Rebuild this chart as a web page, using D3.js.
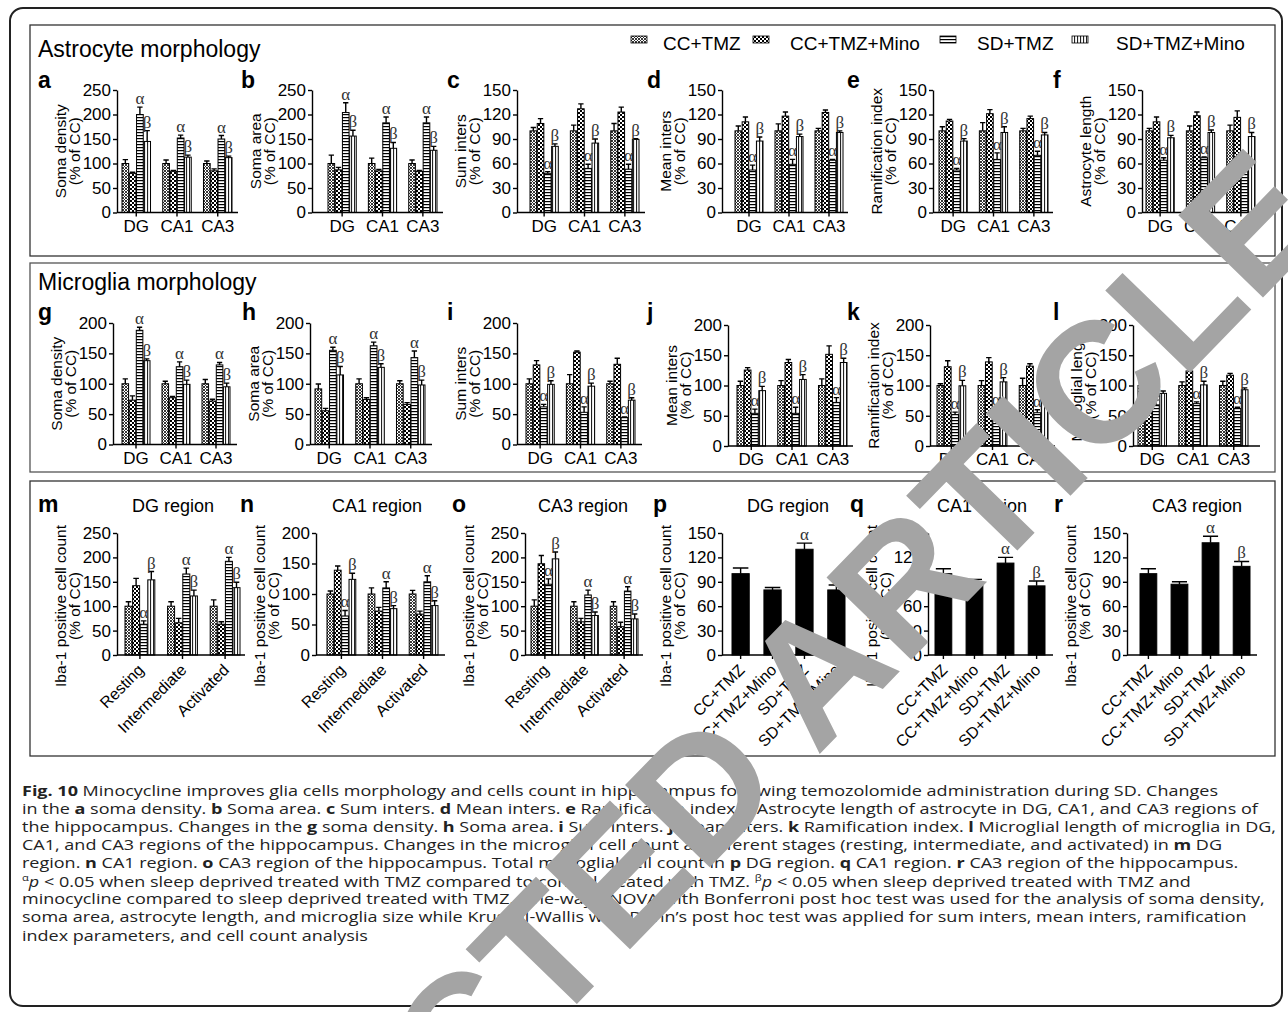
<!DOCTYPE html>
<html>
<head>
<meta charset="utf-8">
<script src="https://cdn.jsdelivr.net/npm/d3@7"></script>
<style>
body { margin: 0; background: #fff; }
svg text { font-family: "Liberation Sans", Arial, sans-serif; }
</style>
</head>
<body>
<svg id="fig" width="1288" height="1012"></svg>
<script>
// categories
const regions = ["DG", "CA1", "CA3"]
const stages = ["Resting", "Intermediate", "Activated"]
const treatments = ["CC+TMZ", "CC+TMZ+Mino", "SD+TMZ", "SD+TMZ+Mino"]

// tick values
const ticks250 = [0, 50, 100, 150, 200, 250]
const ticks200 = [0, 50, 100, 150, 200]
const ticks150 = [0, 30, 60, 90, 120, 150]

// astrocyte morphology (% of CC), rows = DG, CA1, CA3
const astroSomaDensity = [[100, 80, 200, 145], [100, 84, 152, 113], [100, 85, 150, 112]]
const astroSomaDensityErr = [[8, 2, 15, 22], [7, 2, 6, 4], [5, 4, 7, 3]]
const astroSomaArea = [[100, 87, 204, 156], [100, 85, 183, 131], [100, 84, 183, 127]]
const astroSomaAreaErr = [[17, 5, 20, 12], [11, 3, 12, 12], [7, 2, 12, 8]]
const astroSumInters = [[100, 109, 48, 81], [100, 127, 54, 85], [100, 123, 53, 89.5]]
const astroSumIntersErr = [[4, 6, 2, 3], [7, 6, 5, 5], [9, 6, 6, 1]]
const astroMeanInters = [[100, 111, 52, 87.5], [100, 118, 59, 93], [100, 122.5, 64, 98]]
const astroMeanIntersErr = [[6, 6, 6, 5], [8.5, 5, 6, 3], [3, 3, 1, 2]]
const astroRamification = [[100, 112, 52, 87.5], [100, 121, 65, 98], [100, 115, 70, 95]]
const astroRamificationErr = [[5, 2, 2, 3], [10, 5, 8, 7], [3, 3, 5, 3]]
const astroLength = [[100, 111, 64, 91.5], [100, 118.5, 67, 98], [100, 116.5, 57, 93]]
const astroLengthErr = [[3, 6, 3, 3], [6, 4.5, 1, 3], [7, 8, 3, 5]]

// microglia morphology (% of CC)
const microSomaDensity = [[100, 73, 188, 138], [100, 77, 128, 99], [100, 71.5, 131, 95]]
const microSomaDensityErr = [[8, 7, 5, 3], [4, 2, 8, 7], [7, 3, 4, 6]]
const microSomaArea = [[91.5, 55.5, 155, 114.5], [100, 74, 162.5, 127], [100, 66, 143, 98]]
const microSomaAreaErr = [[8, 4, 5, 14], [8, 3, 6, 6], [5, 3, 11, 8]]
const microSumInters = [[100, 131, 62, 99], [100, 152, 53, 96], [100, 132, 44.5, 73]]
const microSumIntersErr = [[8, 7, 4, 6], [15, 2, 9, 5], [4, 10, 1, 4]]
const microMeanInters = [[100, 125.5, 54, 91.5], [100, 138, 54, 110], [100, 151.5, 72, 138]]
const microMeanIntersErr = [[7, 4, 7, 7], [8, 5, 10, 8], [11, 14, 8, 7]]
const microRamification = [[100, 131, 52, 99.5], [100, 139, 57, 106], [100, 132, 55, 106]]
const microRamificationErr = [[3, 10, 4, 9], [8, 7, 5, 7], [12, 4, 5, 6]]
const microLength = [[100, 124, 68, 87], [100, 124, 70, 101], [100, 117, 62, 93]]
const microLengthErr = [[5, 3, 8, 4], [6, 7, 3, 6], [7, 3, 2, 3]]

// Iba-1 cell count by stage, rows = Resting, Intermediate, Activated
const stageDG = [[100, 142, 63, 154], [100, 66, 166, 121], [100, 63, 192, 138]]
const stageDGErr = [[9, 15, 7, 17], [9, 9, 12, 12], [13, 5, 8, 11]]
const stageCA1 = [[100, 139, 64, 124], [100, 72, 110, 76], [100, 67, 120, 81]]
const stageCA1Err = [[5, 7, 9, 10], [10, 6, 10, 5], [6, 5, 10, 8]]
const stageCA3 = [[100, 187, 145, 197], [100, 68, 123, 81], [100, 58, 131, 74]]
const stageCA3Err = [[13, 17, 11, 14], [9, 7, 10, 7], [9, 9, 9, 10]]

// total Iba-1 cell count
const totalDG = [100, 80, 130, 80]
const totalDGErr = [7, 3, 7.5, 6]
const totalCA1 = [100, 87, 113, 85]
const totalCA1Err = [6, 6, 7, 6]
const totalCA3 = [100, 87, 138, 109]
const totalCA3Err = [6, 3, 8, 6]

// significance marks
const sigGroup = ["", "", "α", "β"]
const sigAll = [sigGroup, sigGroup, sigGroup]
const sigMicroLength = [["", "", "α", ""], sigGroup, sigGroup]

const svg = d3.select('#fig')
const defs = svg.append('defs')

// fill patterns
const pattern = (id, w, h) => defs.append('pattern').attr('id', id)
    .attr('patternUnits', 'userSpaceOnUse').attr('width', w).attr('height', h)
const p0 = pattern('pat0', 3, 3)
p0.append('rect').attr('width', 3).attr('height', 3).attr('fill', '#fff')
p0.append('path').attr('d', 'M0,0L3,3M3,0L0,3').attr('stroke', '#222').attr('stroke-width', 0.9)
const p1 = pattern('pat1', 4, 4)
p1.append('rect').attr('width', 4).attr('height', 4).attr('fill', '#000')
p1.append('rect').attr('width', 2).attr('height', 2).attr('fill', '#fff')
p1.append('rect').attr('x', 2).attr('y', 2).attr('width', 2).attr('height', 2).attr('fill', '#fff')
const p2 = pattern('pat2', 4, 3)
p2.append('rect').attr('width', 4).attr('height', 3).attr('fill', '#fff')
p2.append('rect').attr('width', 4).attr('height', 1.2).attr('fill', '#000')
const p3 = pattern('pat3', 3, 4)
p3.append('rect').attr('width', 3).attr('height', 4).attr('fill', '#fff')
p3.append('rect').attr('width', 1.1).attr('height', 4).attr('fill', '#222')
const fills = ['url(#pat0)', 'url(#pat1)', 'url(#pat2)', 'url(#pat3)']

// frames
svg.append('rect').attr('x', 10).attr('y', 8).attr('width', 1272).attr('height', 998)
    .attr('rx', 13).attr('fill', 'none').attr('stroke', '#222').attr('stroke-width', 2)
const boxes = [[30, 25, 1245, 231, '#333'], [30, 263, 1245, 209, '#555'], [30, 481, 1245, 275, '#333']]
boxes.forEach(b => {
    svg.append('rect').attr('x', b[0]).attr('y', b[1]).attr('width', b[2]).attr('height', b[3])
        .attr('fill', 'none').attr('stroke', b[4]).attr('stroke-width', 1.3)
})
svg.append('text').attr('x', 38).attr('y', 57).attr('font-size', 23).text('Astrocyte morphology')
svg.append('text').attr('x', 38).attr('y', 290).attr('font-size', 23).text('Microglia morphology')

// legend
const legendSw = [631, 753, 940, 1072]
const legendTx = [663, 790, 977, 1116]
treatments.forEach((t, i) => {
    svg.append('rect').attr('x', legendSw[i]).attr('y', 36).attr('width', 16).attr('height', 7)
        .attr('fill', fills[i]).attr('stroke', '#000').attr('stroke-width', 0.8)
    svg.append('text').attr('x', legendTx[i]).attr('y', 50).attr('font-size', 19).text(t)
})

const styleAxis = (g) => {
    g.attr('font-size', null).attr('font-family', null)
    g.selectAll('text').attr('font-size', 17).attr('fill', '#000')
    g.selectAll('path,line').attr('stroke', '#000').attr('stroke-width', 1.4)
}

const drawPanel = (s) => {
    const g = svg.append('g')
    const y = d3.scaleLinear().domain([0, s.max]).range([s.yBot, s.yTop])
    const single = !s.cats
    const x0 = d3.scaleBand().domain(single ? treatments : s.cats).range(s.band)
        .paddingInner(single ? 0.46 : 0.3)
    const x1 = d3.scaleBand().domain(treatments).range([0, x0.bandwidth()]).paddingInner(0.08)

    const recs = single
        ? treatments.map((t, i) => ({ x: x0(t), w: x0.bandwidth(), v: s.vals[i], e: s.errs[i], sig: sigGroup[i], fill: '#000' }))
        : s.cats.flatMap((c, gi) => treatments.map((t, ti) => ({
            x: x0(c) + x1(t), w: x1.bandwidth(), v: s.vals[gi][ti], e: s.errs[gi][ti],
            sig: s.sigs[gi][ti], fill: fills[ti]
        })))

    g.selectAll('.bar').data(recs).join('rect').attr('class', 'bar')
        .attr('x', d => d.x).attr('width', d => d.w)
        .attr('y', d => y(d.v)).attr('height', d => y(0) - y(d.v))
        .attr('fill', d => d.fill).attr('stroke', '#000').attr('stroke-width', 1)

    g.selectAll('.err').data(recs).join('path').attr('class', 'err')
        .attr('d', d => {
            const cx = d.x + d.w / 2, cw = d.w * (single ? 0.9 : 0.8)
            return `M${cx},${y(d.v)}V${y(d.v + d.e)}M${cx - cw / 2},${y(d.v + d.e)}H${cx + cw / 2}`
        })
        .attr('stroke', '#000').attr('stroke-width', 1.4).attr('fill', 'none')

    g.selectAll('.sig').data(recs.filter(d => d.sig)).join('text').attr('class', 'sig')
        .attr('x', d => d.x + d.w / 2).attr('y', d => y(d.v + d.e) - 3)
        .attr('text-anchor', 'middle').attr('font-size', 17).attr('fill', '#333')
        .style('font-family', '"Liberation Serif", "Times New Roman", serif')
        .text(d => d.sig)

    // axes
    const ya = g.append('g').attr('transform', `translate(${s.axisX},0)`)
        .call(d3.axisLeft(y).tickValues(s.ticks).tickSize(4).tickSizeOuter(0).tickPadding(2))
    styleAxis(ya)
    const xa = g.append('g').attr('transform', `translate(0,${s.yBot})`)
        .call(d3.axisBottom(x0).tickSize(4).tickSizeOuter(0).tickPadding(3))
    xa.select('.domain').attr('d', `M${s.axisX},0H${s.axisEnd}`)
    styleAxis(xa)
    if (s.rotate) {
        xa.selectAll('.tick text').attr('x', 0).attr('y', 0).attr('dy', 0).attr('font-size', 16)
            .attr('text-anchor', 'end').attr('transform', 'translate(5,16) rotate(-45)')
    }

    // y label
    const cy = (s.yTop + s.yBot) / 2 + (s.labShift || 0)
    s.ylabel.forEach((line, i) => {
        g.append('text').attr('transform', `translate(${s.axisX - s.labOff[i]},${cy}) rotate(-90)`)
            .attr('text-anchor', 'middle').attr('font-size', 15.5).text(line)
    })
    // panel letter and title
    g.append('text').attr('x', s.lx).attr('y', s.ly).attr('font-size', 23).attr('font-weight', 'bold').text(s.letter)
    if (s.title) {
        g.append('text').attr('x', s.tx).attr('y', s.ly).attr('text-anchor', 'middle').attr('font-size', 18).text(s.title)
    }
}

const pct = '(% of CC)'
const iba = ['Iba-1 positive cell count', pct]
const lo = [51, 37]
const row1 = { yTop: 90, yBot: 212.5, ly: 88, cats: regions, sigs: sigAll, labOff: lo }
const row2 = { yTop: 323, yBot: 444.5, ly: 320, cats: regions, labOff: lo }
const row3 = { yTop: 533, yBot: 655, ly: 512, rotate: true, labOff: lo, labShift: 12, sigs: sigAll }

const panels = [
    { ...row1, letter: 'a', lx: 38, axisX: 117, band: [122, 232], axisEnd: 238, max: 250, ticks: ticks250, ylabel: ['Soma density', pct], vals: astroSomaDensity, errs: astroSomaDensityErr },
    { ...row1, letter: 'b', lx: 241, axisX: 312, band: [328, 437], axisEnd: 443, max: 250, ticks: ticks250, ylabel: ['Soma area', pct], vals: astroSomaArea, errs: astroSomaAreaErr },
    { ...row1, letter: 'c', lx: 447, axisX: 517, band: [530, 639], axisEnd: 645, max: 150, ticks: ticks150, ylabel: ['Sum inters', pct], vals: astroSumInters, errs: astroSumIntersErr },
    { ...row1, letter: 'd', lx: 647, axisX: 722, band: [735, 843], axisEnd: 848, max: 150, ticks: ticks150, ylabel: ['Mean inters', pct], vals: astroMeanInters, errs: astroMeanIntersErr },
    { ...row1, letter: 'e', lx: 847, axisX: 933, band: [939, 1048], axisEnd: 1053, max: 150, ticks: ticks150, ylabel: ['Ramification index', pct], vals: astroRamification, errs: astroRamificationErr },
    { ...row1, letter: 'f', lx: 1053, axisX: 1142, band: [1146, 1255], axisEnd: 1262, max: 150, ticks: ticks150, ylabel: ['Astrocyte length', pct], vals: astroLength, errs: astroLengthErr },

    { ...row2, letter: 'g', lx: 38, axisX: 113, band: [122, 230], axisEnd: 237, max: 200, ticks: ticks200, ylabel: ['Soma density', pct], vals: microSomaDensity, errs: microSomaDensityErr, sigs: sigAll },
    { ...row2, letter: 'h', lx: 242, axisX: 310, band: [315, 425], axisEnd: 432, max: 200, ticks: ticks200, ylabel: ['Soma area', pct], vals: microSomaArea, errs: microSomaAreaErr, sigs: sigAll },
    { ...row2, letter: 'i', lx: 447, axisX: 517, band: [526, 635], axisEnd: 642, max: 200, ticks: ticks200, ylabel: ['Sum inters', pct], vals: microSumInters, errs: microSumIntersErr, sigs: sigAll },
    { ...row2, letter: 'j', lx: 647, axisX: 728, band: [737, 847], axisEnd: 853, yTop: 325, yBot: 446, max: 200, ticks: ticks200, ylabel: ['Mean inters', pct], vals: microMeanInters, errs: microMeanIntersErr, sigs: sigAll },
    { ...row2, letter: 'k', lx: 847, axisX: 930, band: [937, 1048], axisEnd: 1055, yTop: 325, yBot: 446, max: 200, ticks: ticks200, ylabel: ['Ramification index', pct], vals: microRamification, errs: microRamificationErr, sigs: sigAll },
    { ...row2, letter: 'l', lx: 1053, axisX: 1133, band: [1138, 1248], axisEnd: 1260, yTop: 325, yBot: 446, max: 200, ticks: ticks200, ylabel: ['Microglial length', pct], vals: microLength, errs: microLengthErr, sigs: sigMicroLength },

    { ...row3, letter: 'm', lx: 38, title: 'DG region', tx: 173, cats: stages, axisX: 117, band: [125, 240], axisEnd: 245, max: 250, ticks: ticks250, ylabel: iba, vals: stageDG, errs: stageDGErr },
    { ...row3, letter: 'n', lx: 240, title: 'CA1 region', tx: 377, cats: stages, axisX: 316, band: [327, 438], axisEnd: 445, max: 200, ticks: ticks200, ylabel: iba, vals: stageCA1, errs: stageCA1Err },
    { ...row3, letter: 'o', lx: 452, title: 'CA3 region', tx: 583, cats: stages, axisX: 525, band: [531, 638], axisEnd: 643, max: 250, ticks: ticks250, ylabel: iba, vals: stageCA3, errs: stageCA3Err },
    { ...row3, letter: 'p', lx: 653, title: 'DG region', tx: 788, axisX: 722, band: [732, 845], axisEnd: 850, max: 150, ticks: ticks150, ylabel: iba, vals: totalDG, errs: totalDGErr },
    { ...row3, letter: 'q', lx: 850, title: 'CA1 region', tx: 982, axisX: 928, band: [935, 1045], axisEnd: 1053, max: 150, ticks: ticks150, ylabel: iba, vals: totalCA1, errs: totalCA1Err },
    { ...row3, letter: 'r', lx: 1054, title: 'CA3 region', tx: 1197, axisX: 1127, band: [1140, 1250], axisEnd: 1257, max: 150, ticks: ticks150, ylabel: iba, vals: totalCA3, errs: totalCA3Err },
]
panels.forEach(drawPanel)

// caption
const caption = [
    [['Fig. 10', 'b'], [' Minocycline improves glia cells morphology and cells count in hippocampus following temozolomide administration during SD. Changes']],
    [['in the '], ['a', 'b'], [' soma density. '], ['b', 'b'], [' Soma area. '], ['c', 'b'], [' Sum inters. '], ['d', 'b'], [' Mean inters. '], ['e', 'b'], [' Ramification index. '], ['f', 'b'], [' Astrocyte length of astrocyte in DG, CA1, and CA3 regions of']],
    [['the hippocampus. Changes in the '], ['g', 'b'], [' soma density. '], ['h', 'b'], [' Soma area. '], ['i', 'b'], [' Sum inters. '], ['j', 'b'], [' Mean inters. '], ['k', 'b'], [' Ramification index. '], ['l', 'b'], [' Microglial length of microglia in DG,']],
    [['CA1, and CA3 regions of the hippocampus. Changes in the microglial cell count at different stages (resting, intermediate, and activated) in '], ['m', 'b'], [' DG']],
    [['region. '], ['n', 'b'], [' CA1 region. '], ['o', 'b'], [' CA3 region of the hippocampus. Total microglial cell count in '], ['p', 'b'], [' DG region. '], ['q', 'b'], [' CA1 region. '], ['r', 'b'], [' CA3 region of the hippocampus.']],
    [['α', 'sup'], ['p', 'i'], [' < 0.05 when sleep deprived treated with TMZ compared to control treated with TMZ. '], ['β', 'sup'], ['p', 'i'], [' < 0.05 when sleep deprived treated with TMZ and']],
    [['minocycline compared to sleep deprived treated with TMZ. One-way ANOVA with Bonferroni post hoc test was used for the analysis of soma density,']],
    [['soma area, astrocyte length, and microglia size while Kruskal-Wallis with Dunn’s post hoc test was applied for sum inters, mean inters, ramification']],
    [['index parameters, and cell count analysis']],
]
const capBase = [796, 814, 832, 850, 868, 887, 904, 922, 941]
const capTexts = caption.map((segs, li) => {
    const t = svg.append('text').attr('x', 22).attr('y', capBase[li]).attr('font-size', 14.5)
        .style('font-family', '"Open Sans", "Noto Sans", sans-serif').attr('fill', '#222')
    segs.forEach(([str, st]) => {
        const ts = t.append('tspan').text(str)
        if (st === 'b') ts.attr('font-weight', 'bold')
        if (st === 'i') ts.attr('font-style', 'italic').attr('dy', 6)
        if (st === 'sup') ts.attr('font-size', 9).attr('dy', -6)
    })
    return t
})
// one horizontal stretch for all lines, so the widest line ends at the frame
const natural = capTexts.map(t => t.node().getComputedTextLength())
const stretch = 1254 / d3.max(natural)
capTexts.forEach((t, i) => t.attr('textLength', natural[i] * stretch).attr('lengthAdjust', 'spacingAndGlyphs'))

// retraction stamp
const wmPath = svg.append('path').attr('id', 'wmpath')
    .attr('d', 'M250,1252 L1360,109').attr('fill', 'none')
const pn = wmPath.node()
const total = pn.getTotalLength()
const nearest = (px, py) => {
    let best = 0, bd = 1e12
    for (let l = 0; l <= total; l += 2) {
        const p = pn.getPointAtLength(l)
        const d = (p.x - px) ** 2 + (p.y - py) ** 2
        if (d < bd) { bd = d; best = l }
    }
    return best
}
const word = 'RETRACTED ARTICLE'
const probe = svg.append('text').attr('font-size', 100).attr('font-weight', 'bold').text(word)
const prn = probe.node()
const cA = prn.getSubStringLength(0, 10) + prn.getSubStringLength(10, 1) / 2
const cE = prn.getSubStringLength(0, 16) + prn.getSubStringLength(16, 1) / 2
probe.remove()
const lenA = nearest(815, 670), lenE = nearest(1250, 222)
const wmSize = 100 * (lenE - lenA) / (cE - cA)
svg.append('text').attr('font-size', wmSize).attr('font-weight', 'bold')
    .attr('fill', '#a4a4a4').attr('dy', '0.36em')
    .append('textPath').attr('href', '#wmpath').attr('startOffset', lenA - cA * wmSize / 100)
    .text(word)
</script>
</body>
</html>
